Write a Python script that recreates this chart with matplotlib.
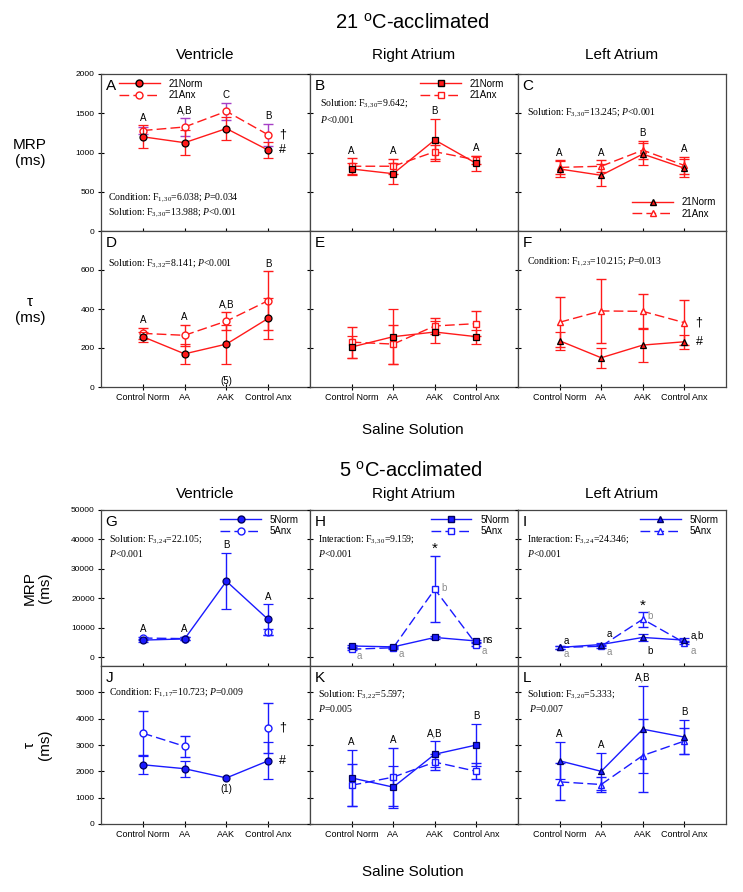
import numpy as np
import matplotlib
matplotlib.use('Agg')
import matplotlib.pyplot as plt
from matplotlib.lines import Line2D

plt.rcParams['font.family'] = ['Liberation Sans', 'DejaVu Sans']
plt.rcParams['mathtext.fontset'] = 'custom'
plt.rcParams['mathtext.rm'] = 'Liberation Serif'
plt.rcParams['mathtext.it'] = 'Liberation Serif:italic'
plt.rcParams['mathtext.sf'] = 'Liberation Sans'

nan = np.nan
conditions = ['Control Norm', 'AA', 'AAK', 'Control Anx']
x = np.arange(1, 5)

# 21 oC-acclimated, MRP (ms)
mrp21_v_norm = [1200, 1125, 1305, 1030]
mrp21_v_norm_se = [145, 160, 150, 100]
mrp21_v_anx = [1280, 1325, 1525, 1225]
mrp21_v_anx_se = [50, 110, 110, 140]
mrp21_ra_norm = [790, 730, 1160, 860]
mrp21_ra_norm_se = [80, 130, 265, 90]
mrp21_ra_anx = [825, 825, 1010, 905]
mrp21_ra_anx_se = [100, 95, 90, 55]
mrp21_la_norm = [790, 710, 980, 800]
mrp21_la_norm_se = [100, 140, 140, 115]
mrp21_la_anx = [810, 825, 1030, 835]
mrp21_la_anx_se = [90, 75, 115, 110]
# 21 oC-acclimated, tau (ms)
tau21_v_norm = [258, 170, 220, 352]
tau21_v_norm_se = [25, 50, 100, 105]
tau21_v_anx = [275, 265, 338, 443]
tau21_v_anx_se = [30, 55, 47, 150]
tau21_ra_norm = [205, 258, 282, 258]
tau21_ra_norm_se = [55, 140, 55, 35]
tau21_ra_anx = [230, 220, 313, 325]
tau21_ra_anx_se = [80, 100, 42, 65]
tau21_la_norm = [237, 150, 215, 232]
tau21_la_norm_se = [45, 50, 85, 35]
tau21_la_anx = [332, 390, 388, 330]
tau21_la_anx_se = [128, 162, 87, 115]

# 5 oC-acclimated, MRP (ms)
mrp5_v_norm = [5800, 6200, 25800, 12800]
mrp5_v_norm_se = [500, 500, 9600, 5100]
mrp5_v_anx = [6500, 6300, nan, 8600]
mrp5_v_anx_se = [500, 500, nan, 900]
mrp5_ra_norm = [3800, 3500, 6700, 5500]
mrp5_ra_norm_se = [400, 300, 600, 500]
mrp5_ra_anx = [2700, 3200, 23100, 4300]
mrp5_ra_anx_se = [400, 400, 11300, 500]
mrp5_la_norm = [3300, 4300, 6700, 5800]
mrp5_la_norm_se = [400, 500, 1200, 600]
mrp5_la_anx = [3300, 3700, 12900, 4900]
mrp5_la_anx_se = [400, 500, 2500, 500]
# 5 oC-acclimated, tau (ms)
tau5_v_norm = [2250, 2100, 1750, 2400]
tau5_v_norm_se = [350, 300, nan, 700]
tau5_v_anx = [3450, 2950, nan, 3650]
tau5_v_anx_se = [830, 400, nan, 960]
tau5_ra_norm = [1750, 1400, 2650, 3000]
tau5_ra_norm_se = [1050, 800, 500, 800]
tau5_ra_anx = [1470, 1780, 2350, 2000]
tau5_ra_anx_se = [800, 1100, 300, 300]
tau5_la_norm = [2400, 2000, 3600, 3300]
tau5_la_norm_se = [700, 700, 1650, 650]
tau5_la_anx = [1600, 1500, 2600, 3150]
tau5_la_anx_se = [700, 300, 1400, 500]

letters_A = ['A', 'A,B', 'C', 'B']
letters_B = ['A', 'A', 'B', 'A']
letters_C = ['A', 'A', 'B', 'A']
letters_D = ['A', 'A', 'A,B', 'B']
letters_G = ['A', 'A', 'B', 'A']
letters_K = ['A', 'A', 'A,B', 'B']
letters_L = ['A', 'A', 'A,B', 'B']

RED = '#ff1a1a'
BLUE = '#1a1aff'
GRAY = '#8c8c8c'
SPINE = '#454545'
serif = 'Liberation Serif'

W, H = 743, 892
fig = plt.figure(figsize=(W / 100, H / 100), dpi=100)
fig.patch.set_facecolor('white')

cols = [(101, 310), (310, 518), (518, 726)]
rows = [(74, 231), (231, 387), (510, 666), (666, 824)]


def add_ax(c, r):
    x0, x1 = cols[c]
    y0, y1 = rows[r]
    return fig.add_axes([x0 / W, 1 - y1 / H, (x1 - x0) / W, (y1 - y0) / H])


def draw(ax, norm, norm_se, anx, anx_se, marker, color, edge, anx_ecolor=None):
    ms = 5 if marker != 's' else 4.6
    ax.errorbar(x, anx, yerr=anx_se, color=color, ecolor=anx_ecolor or color,
                lw=1, elinewidth=1, capsize=3.5, capthick=1, marker=marker,
                ms=ms, mfc='white', mec=color, mew=1, dashes=(7, 3), zorder=3)
    ax.errorbar(x, norm, yerr=norm_se, color=color, lw=1, elinewidth=1,
                capsize=3.5, capthick=1, marker=marker, ms=ms, mfc=color,
                mec=edge, mew=0.9, zorder=4)


def put_letters(ax, letters, norm, norm_se, anx, anx_se, ylim):
    pad = 0.05 * (ylim[1] - ylim[0])
    for i, lab in enumerate(letters):
        tops = [v + (e if not np.isnan(e) else 0)
                for v, e in ((norm[i], norm_se[i]), (anx[i], anx_se[i])) if not np.isnan(v)]
        ax.text(x[i], max(tops) + pad, lab, ha='center', va='center', fontsize=7)


def style(ax, ylim, yticks, ylabels, xlabels):
    ax.set_xlim(0, 5)
    ax.set_ylim(*ylim)
    ax.set_xticks(x)
    ax.set_yticks(yticks)
    if xlabels:
        ax.set_xticklabels(conditions, fontsize=6.5)
    else:
        ax.set_xticklabels([])
    if ylabels:
        ax.set_yticklabels([str(t) for t in yticks], fontsize=6)
    else:
        ax.set_yticklabels([])
    ax.tick_params(direction='inout', length=5, width=0.8, color='black', pad=2)
    for s in ax.spines.values():
        s.set_color(SPINE)
        s.set_linewidth(0.9)


def legend(ax, marker, color, edge, labels, anchor):
    ms = 5 if marker != 's' else 4.6
    h = [Line2D([0], [0], color=color, lw=1, marker=marker, ms=ms, mfc=color, mec=edge),
         Line2D([0], [0], color=color, lw=1, marker=marker, ms=ms, mfc='white', mec=color,
                dashes=(7, 3))]
    ax.legend(h, labels, loc='upper left', bbox_to_anchor=anchor, frameon=False,
              fontsize=7, handlelength=4.2, handletextpad=0.9, labelspacing=0.15,
              borderpad=0, borderaxespad=0)


def stat(ax, xa, ya, s):
    ax.text(xa, ya, s, transform=ax.transAxes, fontsize=7, family=serif, va='center', ha='left')


def panel_label(ax, s):
    ax.text(0.022, 0.925, s, transform=ax.transAxes, fontsize=11, va='center', ha='left')


yl21 = (0, 2000)
ylt21 = (0, 800)
yl5 = (-3000, 50000)
ylt5 = (0, 6000)
t21 = [0, 500, 1000, 1500, 2000]
tt21 = [0, 200, 400, 600]
t5 = [0, 10000, 20000, 30000, 40000, 50000]
tt5 = [0, 1000, 2000, 3000, 4000, 5000]

# ---------- 21 oC ----------
ax = add_ax(0, 0)
draw(ax, mrp21_v_norm, mrp21_v_norm_se, mrp21_v_anx, mrp21_v_anx_se, 'o', RED, 'black', anx_ecolor='#a63fc6')
put_letters(ax, letters_A, mrp21_v_norm, mrp21_v_norm_se, mrp21_v_anx, mrp21_v_anx_se, yl21)
style(ax, yl21, t21, True, False)
legend(ax, 'o', RED, 'black', ['21Norm', '21Anx'], (0.085, 0.97))
stat(ax, 0.035, 0.21, r'Condition: F$_{\mathrm{1,30}}$=6.038; $P$=0.034')
stat(ax, 0.035, 0.115, r'Solution: F$_{\mathrm{3,30}}$=13.988; $P$<0.001')
ax.text(4.35, mrp21_v_anx[3], '†', fontsize=9, va='center', ha='center')
ax.text(4.35, mrp21_v_norm[3], '#', fontsize=9, va='center', ha='center')
panel_label(ax, 'A')

ax = add_ax(1, 0)
draw(ax, mrp21_ra_norm, mrp21_ra_norm_se, mrp21_ra_anx, mrp21_ra_anx_se, 's', RED, 'black')
put_letters(ax, letters_B, mrp21_ra_norm, mrp21_ra_norm_se, mrp21_ra_anx, mrp21_ra_anx_se, yl21)
style(ax, yl21, t21, False, False)
legend(ax, 's', RED, 'black', ['21Norm', '21Anx'], (0.53, 0.97))
stat(ax, 0.048, 0.81, r'Solution: F$_{\mathrm{3,30}}$=9.642;')
stat(ax, 0.048, 0.71, r'$P$<0.001')
panel_label(ax, 'B')

ax = add_ax(2, 0)
draw(ax, mrp21_la_norm, mrp21_la_norm_se, mrp21_la_anx, mrp21_la_anx_se, '^', RED, 'black')
put_letters(ax, letters_C, mrp21_la_norm, mrp21_la_norm_se, mrp21_la_anx, mrp21_la_anx_se, yl21)
style(ax, yl21, t21, False, False)
legend(ax, '^', RED, 'black', ['21Norm', '21Anx'], (0.55, 0.215))
stat(ax, 0.043, 0.75, r'Solution: F$_{\mathrm{3,30}}$=13.245; $P$<0.001')
panel_label(ax, 'C')

ax = add_ax(0, 1)
draw(ax, tau21_v_norm, tau21_v_norm_se, tau21_v_anx, tau21_v_anx_se, 'o', RED, 'black')
put_letters(ax, letters_D, tau21_v_norm, tau21_v_norm_se, tau21_v_anx, tau21_v_anx_se, ylt21)
style(ax, ylt21, tt21, True, True)
stat(ax, 0.035, 0.79, r'Solution: F$_{\mathrm{3,32}}$=8.141; $P$<0.001')
ax.text(3, 30, '(5)', fontsize=7, ha='center', va='center')
panel_label(ax, 'D')

ax = add_ax(1, 1)
draw(ax, tau21_ra_norm, tau21_ra_norm_se, tau21_ra_anx, tau21_ra_anx_se, 's', RED, 'black')
style(ax, ylt21, tt21, False, True)
panel_label(ax, 'E')

ax = add_ax(2, 1)
draw(ax, tau21_la_norm, tau21_la_norm_se, tau21_la_anx, tau21_la_anx_se, '^', RED, 'black')
style(ax, ylt21, tt21, False, True)
stat(ax, 0.043, 0.80, r'Condition: F$_{\mathrm{1,23}}$=10.215; $P$=0.013')
ax.text(4.35, tau21_la_anx[3], '†', fontsize=9, va='center', ha='center')
ax.text(4.35, tau21_la_norm[3], '#', fontsize=9, va='center', ha='center')
panel_label(ax, 'F')

# ---------- 5 oC ----------
ax = add_ax(0, 2)
draw(ax, mrp5_v_norm, mrp5_v_norm_se, mrp5_v_anx, mrp5_v_anx_se, 'o', BLUE, '#000060')
put_letters(ax, letters_G, mrp5_v_norm, mrp5_v_norm_se, mrp5_v_anx, mrp5_v_anx_se, yl5)
style(ax, yl5, t5, True, False)
legend(ax, 'o', BLUE, '#000060', ['5Norm', '5Anx'], (0.57, 0.97))
stat(ax, 0.04, 0.81, r'Solution: F$_{\mathrm{3,24}}$=22.105;')
stat(ax, 0.04, 0.72, r'$P$<0.001')
panel_label(ax, 'G')

ax = add_ax(1, 2)
draw(ax, mrp5_ra_norm, mrp5_ra_norm_se, mrp5_ra_anx, mrp5_ra_anx_se, 's', BLUE, '#000060')
style(ax, yl5, t5, False, False)
legend(ax, 's', BLUE, '#000060', ['5Norm', '5Anx'], (0.58, 0.97))
stat(ax, 0.04, 0.81, r'Interaction: F$_{\mathrm{3,30}}$=9.159;')
stat(ax, 0.04, 0.72, r'$P$<0.001')
ax.text(3, 36700, '*', fontsize=11, ha='center', va='center')
for xi, yi, s in [(1.13, 340, 'a'), (2.13, 1120, 'a'), (3.15, 23470, 'b'), (4.13, 2040, 'a')]:
    ax.text(xi, yi, s, color=GRAY, fontsize=7, ha='left', va='center')
ax.text(4.15, 5800, 'ns', fontsize=7, ha='left', va='center')
panel_label(ax, 'H')

ax = add_ax(2, 2)
draw(ax, mrp5_la_norm, mrp5_la_norm_se, mrp5_la_anx, mrp5_la_anx_se, '^', BLUE, '#000060')
style(ax, yl5, t5, False, False)
legend(ax, '^', BLUE, '#000060', ['5Norm', '5Anx'], (0.585, 0.97))
stat(ax, 0.043, 0.81, r'Interaction: F$_{\mathrm{3,24}}$=24.346;')
stat(ax, 0.043, 0.72, r'$P$<0.001')
ax.text(3, 17450, '*', fontsize=11, ha='center', va='center')
for xi, yi, s in [(1.1, 5440, 'a'), (2.12, 7720, 'a'), (3.11, 2040, 'b'), (4.15, 7480, 'a,b')]:
    ax.text(xi, yi, s, color='black', fontsize=7, ha='left', va='center')
for xi, yi, s in [(1.1, 920, 'a'), (2.12, 1600, 'a'), (3.11, 14000, 'b'), (4.15, 2040, 'a')]:
    ax.text(xi, yi, s, color=GRAY, fontsize=7, ha='left', va='center')
panel_label(ax, 'I')

ax = add_ax(0, 3)
draw(ax, tau5_v_norm, tau5_v_norm_se, tau5_v_anx, tau5_v_anx_se, 'o', BLUE, '#000060')
style(ax, ylt5, tt5, True, True)
stat(ax, 0.04, 0.83, r'Condition: F$_{\mathrm{1,17}}$=10.723; $P$=0.009')
ax.text(3, 1320, '(1)', fontsize=7, ha='center', va='center')
ax.text(4.35, tau5_v_anx[3], '†', fontsize=9, va='center', ha='center')
ax.text(4.35, tau5_v_norm[3], '#', fontsize=9, va='center', ha='center')
panel_label(ax, 'J')

ax = add_ax(1, 3)
draw(ax, tau5_ra_norm, tau5_ra_norm_se, tau5_ra_anx, tau5_ra_anx_se, 's', BLUE, '#000060')
put_letters(ax, letters_K, tau5_ra_norm, tau5_ra_norm_se, tau5_ra_anx, tau5_ra_anx_se, ylt5)
style(ax, ylt5, tt5, False, True)
stat(ax, 0.04, 0.82, r'Solution: F$_{\mathrm{3,22}}$=5.597;')
stat(ax, 0.04, 0.73, r'$P$=0.005')
panel_label(ax, 'K')

ax = add_ax(2, 3)
draw(ax, tau5_la_norm, tau5_la_norm_se, tau5_la_anx, tau5_la_anx_se, '^', BLUE, '#000060')
put_letters(ax, letters_L, tau5_la_norm, tau5_la_norm_se, tau5_la_anx, tau5_la_anx_se, ylt5)
style(ax, ylt5, tt5, False, True)
stat(ax, 0.043, 0.82, r'Solution: F$_{\mathrm{3,20}}$=5.333;')
stat(ax, 0.055, 0.73, r'$P$=0.007')
panel_label(ax, 'L')

# ---------- figure texts ----------
fig.text(412 / W, 1 - 22 / H, r'21 $^{\mathsf{o}}$C-acclimated', fontsize=14.5, ha='center', va='center')
fig.text(411 / W, 1 - 471 / H, r'5 $^{\mathsf{o}}$C-acclimated', fontsize=14.5, ha='center', va='center')
for yc in (55, 494):
    for (x0, x1), name in zip(cols, ['Ventricle', 'Right Atrium', 'Left Atrium']):
        fig.text((x0 + x1) / 2 / W, 1 - yc / H, name, fontsize=11, ha='center', va='center')
fig.text(413 / W, 1 - 430 / H, 'Saline Solution', fontsize=11, ha='center', va='center')
fig.text(413 / W, 1 - 872 / H, 'Saline Solution', fontsize=11, ha='center', va='center')
fig.text(30 / W, 1 - 153 / H, 'MRP\n(ms)', fontsize=11, ha='center', va='center', linespacing=1.1)
fig.text(30 / W, 1 - 310 / H, 'τ\n(ms)', fontsize=11, ha='center', va='center', linespacing=1.1)
fig.text(37 / W, 1 - 588 / H, 'MRP\n(ms)', fontsize=11, ha='center', va='center', rotation=90, linespacing=1.1)
fig.text(37 / W, 1 - 745 / H, 'τ\n(ms)', fontsize=11, ha='center', va='center', rotation=90, linespacing=1.1)

fig.savefig('out.png', dpi=100)
